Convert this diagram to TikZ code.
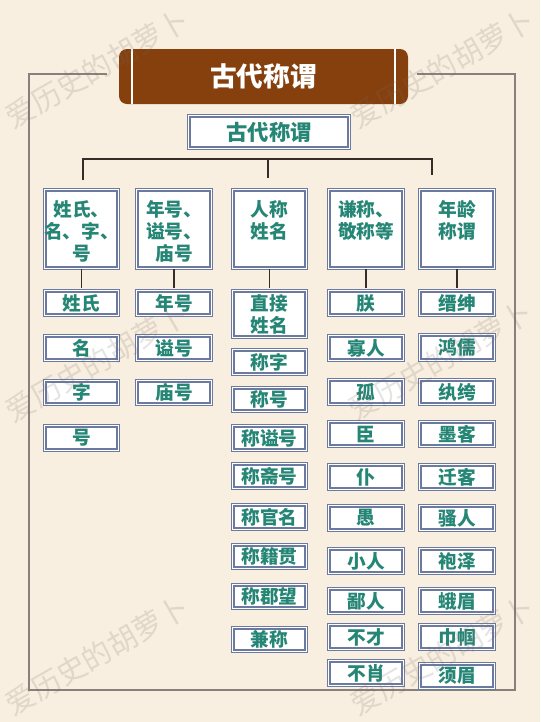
\documentclass[tikz,border=0pt]{standalone}
\usepackage{fontspec}
\setmainfont{Noto Sans CJK SC}
\definecolor{bgc}{RGB}{248,239,224}
\definecolor{brn}{RGB}{133,64,14}
\definecolor{bcol}{RGB}{108,122,160}
\definecolor{tcol}{RGB}{38,134,118}
\definecolor{frm}{RGB}{135,128,125}
\definecolor{con}{RGB}{55,45,40}
\definecolor{wmk}{RGB}{120,110,100}
\tikzset{
  sbox/.style={draw=bcol, line width=1pt, double=white, double distance=0.8pt,
    fill=white, inner sep=0pt, text=tcol, align=center,
    font=\bfseries\fontsize{14}{16.5}\selectfont},
  btext/.style={inner sep=0pt, text=tcol, align=center, anchor=north,
    font=\bfseries\fontsize{14}{16.5}\selectfont},
  conn/.style={draw=con, line width=1.1pt},
  frameline/.style={draw=frm, line width=1.1pt},
  wm/.style={text=wmk, opacity=0.18, rotate=30, inner sep=0pt,
    font=\fontsize{22}{24}\selectfont},
}
\newcommand\bx[6]{%
  \pgfmathsetmacro\bw{(#4-#2)*0.75-2.8}%
  \pgfmathsetmacro\bh{(#5-#3)*0.75-2.8}%
  \node[sbox, minimum width=\bw pt, minimum height=\bh pt] (#1) at ({(#2+#4)/2},{(#3+#5)/2}) {#6};}
\begin{document}
\begin{tikzpicture}[x=0.75pt,y=-0.75pt]
\fill[bgc] (0,0) rectangle (540,722);
\useasboundingbox (0,0) rectangle (540,722);
% frame
\coordinate (fl) at (107,74);
\coordinate (fr) at (417,74);
\draw[frameline] (fl) -- (29,74) -- (29,690) -- (515,690) -- (515,74) -- (fr);
% banner
\draw[fill=brn, draw=none, rounded corners=6pt] (119,49) rectangle (408,104);
\draw[white, line width=1.2pt] (132,49) -- (132,104);
\draw[white, line width=1.2pt] (395,49) -- (395,104);
\node[text=white, inner sep=0pt, font=\bfseries\fontsize{20}{22}\selectfont] (title) at (263.5,76.5) {古代称谓};
% subtitle
\bx{root}{187}{114}{351}{150}{\fontsize{16}{18}\selectfont 古代称谓}
% tree connector
\coordinate (hl) at (83,159);
\coordinate (hr) at (432,159);
\coordinate (dl) at (83,180);
\coordinate (hm) at (268,159);
\coordinate (dm) at (268,178);
\coordinate (dr) at (432,175);
\draw[conn] (dl) -- (hl) -- (hr) -- (dr);
\draw[conn] (hm) -- (dm);
% big boxes
\bx{b1}{43}{188}{120}{270}{}
\bx{b2}{135}{188}{213}{270}{}
\bx{b3}{231}{188}{308}{270}{}
\bx{b4}{327}{188}{405}{270}{}
\bx{b5}{418}{188}{496}{270}{}
\node[btext] (t1) at (81.5,200) {姓氏、\\名、字、\\号};
\node[btext] (t2) at (174,200) {年号、\\谥号、\\庙号};
\node[btext] (t3) at (269.5,200) {人称\\姓名};
\node[btext] (t4) at (366,200) {谦称、\\敬称等};
\node[btext] (t5) at (457,200) {年龄\\称谓};
% column 1
\bx{a1}{43}{289}{120}{317}{姓氏}
\bx{a2}{43}{334}{120}{362}{名}
\bx{a3}{43}{379}{120}{406}{字}
\bx{a4}{43}{424}{120}{452}{号}
% column 2
\bx{c1}{135}{289}{213}{317}{年号}
\bx{c2}{135}{334}{213}{362}{谥号}
\bx{c3}{135}{379}{213}{406}{庙号}
% column 3
\bx{d1}{231}{289}{308}{339}{直接\\姓名}
\bx{d2}{231}{348}{308}{376}{称字}
\bx{d3}{231}{386}{308}{413}{称号}
\bx{d4}{231}{424}{308}{452}{称谥号}
\bx{d5}{231}{462}{308}{490}{称斋号}
\bx{d6}{231}{503}{308}{531}{称官名}
\bx{d7}{231}{543}{308}{570}{称籍贯}
\bx{d8}{231}{583}{308}{610}{称郡望}
\bx{d9}{231}{626}{308}{653}{兼称}
% column 4
\bx{e1}{327}{289}{405}{317}{朕}
\bx{e2}{327}{334}{405}{362}{寡人}
\bx{e3}{327}{378}{405}{406}{孤}
\bx{e4}{327}{420}{405}{448}{臣}
\bx{e5}{327}{463}{405}{491}{仆}
\bx{e6}{327}{504}{405}{532}{愚}
\bx{e7}{327}{547}{405}{575}{小人}
\bx{e8}{327}{587}{405}{615}{鄙人}
\bx{e9}{327}{623}{405}{651}{不才}
\bx{e10}{327}{659}{405}{687}{不肖}
% column 5
\bx{f1}{418}{289}{496}{317}{缙绅}
\bx{f2}{418}{333}{496}{362}{鸿儒}
\bx{f3}{418}{378}{496}{406}{纨绔}
\bx{f4}{418}{420}{496}{448}{墨客}
\bx{f5}{418}{463}{496}{491}{迁客}
\bx{f6}{418}{504}{496}{532}{骚人}
\bx{f7}{418}{547}{496}{575}{袍泽}
\bx{f8}{418}{587}{496}{615}{蛾眉}
\bx{f9}{418}{623}{496}{651}{巾帼}
\bx{f10}{418}{662}{496}{690}{须眉}
% short connectors
\draw[conn, shorten >=2pt] (b1.south) -- (a1.north);
\draw[conn, shorten >=2pt] (b2.south) -- (c1.north);
\draw[conn, shorten >=2pt] (b3.south) -- (d1.north);
\draw[conn, shorten >=2pt] (b4.south) -- (e1.north);
\draw[conn, shorten >=2pt] (b5.south) -- (f1.north);
% watermarks
\node[wm] (w1) at (97,68) {爱历史的胡萝卜};
\node[wm] (w2) at (442,68) {爱历史的胡萝卜};
\node[wm] (w3) at (97,362) {爱历史的胡萝卜};
\node[wm] (w4) at (440,360) {爱历史的胡萝卜};
\node[wm] (w5) at (97,655) {爱历史的胡萝卜};
\node[wm] (w6) at (442,655) {爱历史的胡萝卜};
\end{tikzpicture}
\end{document}
